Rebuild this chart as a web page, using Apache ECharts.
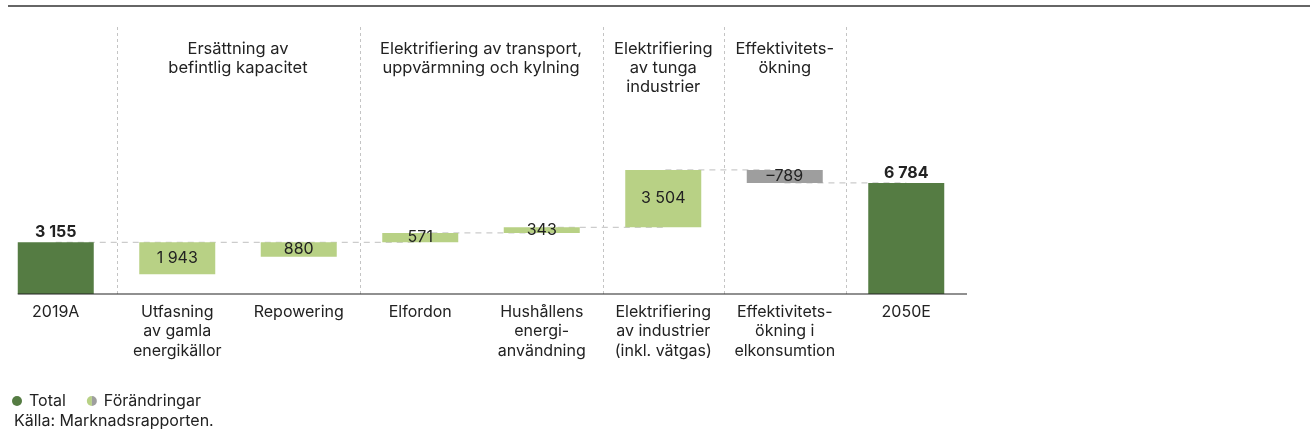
<!DOCTYPE html>
<html>
<head>
<meta charset="utf-8">
<script src="https://cdn.jsdelivr.net/npm/echarts@6/dist/echarts.min.js"></script>
<style>
html, body { margin: 0; padding: 0; background: #fff; }
#chart { width: 1310px; height: 439px; }
</style>
</head>
<body>
<div id="chart"></div>
<script>
const categories = [
  '2019A',
  'Utfasning\nav gamla\nenergikällor',
  'Repowering',
  'Elfordon',
  'Hushållens\nenergi-\nanvändning',
  'Elektrifiering\nav industrier\n(inkl. vätgas)',
  'Effektivitets-\nökning i\nelkonsumtion',
  '2050E'
];
const totals = [3155, null, null, null, null, null, null, 6784];
const changes = [null, 1943, 880, 571, 343, 3504, -789, null];
// ersättning: bar hangs below the running level, level stays the same
const replacement = [false, true, true, false, false, false, false, false];

const groupTitles = [
  'Ersättning av\nbefintlig kapacitet',
  'Elektrifiering av transport,\nuppvärmning och kylning',
  'Elektrifiering\nav tunga\nindustrier',
  'Effektivitets-\nökning'
];
const groupSpans = [[1, 2], [3, 4], [5, 5], [6, 6]];
const separatorsAt = [1, 3, 5, 6, 7];

const DARK = '#557c43';
const LIGHT = '#b8d185';
const GRAY = '#9e9e9e';
const FONT = 'Inter';

const fmt = v => String(Math.abs(v)).replace(/\B(?=(\d{3})+(?!\d))/g, ' ');

let level = 0;
const base = [], totalBars = [], changeBars = [], connector = [];
categories.forEach((c, i) => {
  if (totals[i] != null) {
    base.push(0);
    totalBars.push(totals[i]);
    changeBars.push('-');
    level = totals[i];
  } else {
    const v = changes[i];
    totalBars.push('-');
    if (replacement[i]) base.push(level - v);
    else if (v >= 0) { base.push(level); level += v; }
    else { base.push(level + v); level += v; }
    changeBars.push({ value: Math.abs(v), itemStyle: { color: v < 0 ? GRAY : LIGHT } });
  }
  connector.push(level);
});

const halfIcon = 'image://data:image/svg+xml;utf8,' + encodeURIComponent(
  '<svg xmlns="http://www.w3.org/2000/svg" width="14" height="10" viewBox="0 0 14 10">' +
  '<path d="M7 0 A5 5 0 0 0 7 10 Z" fill="' + LIGHT + '"/>' +
  '<path d="M7 0 A5 5 0 0 1 7 10 Z" fill="' + GRAY + '"/></svg>');

const chart = echarts.init(document.getElementById('chart'));

const option = {
  animation: false,
  textStyle: { fontFamily: FONT },
  grid: { left: -5, right: 343, top: 27, bottom: 145, outerBoundsMode: 'none', containLabel: false },
  legend: {
    left: 12, top: 393, padding: 0,
    itemWidth: 14, itemHeight: 10, itemGap: 19,
    selectedMode: false,
    textStyle: { fontFamily: FONT, fontSize: 16, color: '#222' },
    data: [
      { name: 'Total', icon: 'circle', itemStyle: { color: DARK } },
      { name: 'Förändringar', icon: halfIcon }
    ]
  },
  title: {
    text: 'Källa: Marknadsrapporten.',
    left: 9, top: 408,
    textStyle: { fontFamily: FONT, fontSize: 16, fontWeight: 'normal', color: '#222' }
  },
  xAxis: {
    type: 'category',
    data: categories,
    axisLine: { show: false },
    axisTick: { show: false },
    axisLabel: {
      interval: 0, margin: 8,
      fontFamily: FONT, fontSize: 16, lineHeight: 19.5, color: '#222'
    },
    splitLine: { show: false }
  },
  yAxis: { type: 'value', min: 0, max: 16300, show: false },
  series: [
    {
      name: 'connector',
      type: 'line',
      step: 'end',
      data: connector,
      symbol: 'none',
      silent: true,
      z: 1,
      lineStyle: { color: '#cccccc', width: 1.2, type: [6, 5] }
    },
    {
      name: 'base',
      type: 'bar',
      stack: 'wf',
      data: base,
      barWidth: 76,
      silent: true,
      itemStyle: { color: 'transparent' },
      z: 2
    },
    {
      name: 'Total',
      type: 'bar',
      stack: 'wf',
      data: totalBars,
      barWidth: 76,
      itemStyle: { color: DARK },
      z: 2,
      label: {
        show: true, position: 'top', distance: 2,
        fontFamily: FONT, fontSize: 16, fontWeight: 'bold', color: '#222',
        formatter: p => fmt(p.value)
      }
    },
    {
      name: 'Förändringar',
      type: 'bar',
      stack: 'wf',
      data: changeBars,
      barWidth: 76,
      itemStyle: { color: LIGHT },
      z: 2,
      label: {
        show: true, position: 'inside',
        fontFamily: FONT, fontSize: 16, color: '#222',
        formatter: p => (changes[p.dataIndex] < 0 ? '\u2013' : '') + fmt(changes[p.dataIndex])
      }
    }
  ]
};

chart.setOption(option);

// decorations placed from the chart's own scales
const xAt = i => chart.convertToPixel({ xAxisIndex: 0 }, categories[i]);
const yZero = chart.convertToPixel({ yAxisIndex: 0 }, 0);
const yTop = chart.convertToPixel({ yAxisIndex: 0 }, 16300);
const band = xAt(1) - xAt(0);
const graphics = [
  { type: 'rect', shape: { x: 8, y: 5, width: 1302, height: 2 }, style: { fill: '#666' }, silent: true },
  {
    type: 'line',
    shape: { x1: xAt(0) - 38, y1: yZero, x2: xAt(categories.length - 1) + band / 2, y2: yZero },
    style: { stroke: '#222', lineWidth: 1.2 },
    z: 10, silent: true
  }
];
separatorsAt.forEach(i => {
  const x = Math.round(xAt(i) - band / 2) + 0.5;
  graphics.push({
    type: 'line', silent: true, z: 0,
    shape: { x1: x, y1: yTop, x2: x, y2: yZero },
    style: { stroke: '#c4c4c4', lineWidth: 1, lineDash: [3, 3] }
  });
});
groupTitles.forEach((t, g) => {
  const [a, b] = groupSpans[g];
  graphics.push({
    type: 'text',
    x: (xAt(a) + xAt(b)) / 2,
    y: 40,
    silent: true,
    style: {
      text: t, align: 'center', verticalAlign: 'top',
      fontFamily: FONT, fontSize: 16.5, lineHeight: 19, fill: '#222'
    }
  });
});
chart.setOption({ graphic: graphics });
</script>
</body>
</html>
